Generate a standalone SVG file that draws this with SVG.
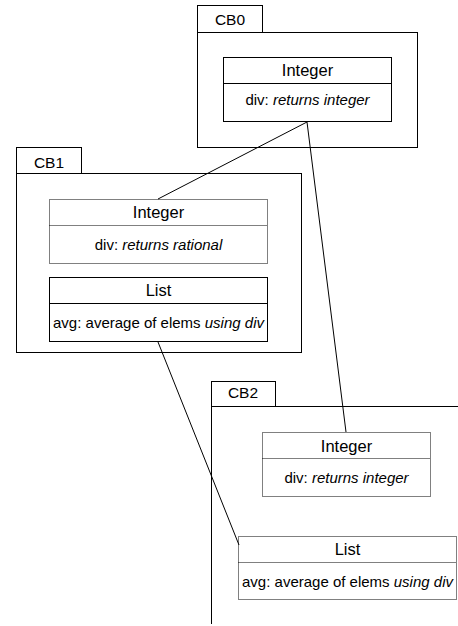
<svg xmlns="http://www.w3.org/2000/svg" width="458" height="626" viewBox="0 0 458 626">
<style>
.frame{fill:none;stroke:#000;stroke-width:1}
.solid{fill:#fff;stroke:#000;stroke-width:1}
.dot{fill:#fff;stroke:#000;stroke-width:1;stroke-dasharray:1 1}
.hd{font-family:"Liberation Sans",Arial,sans-serif;font-size:16.5px;text-anchor:middle;fill:#000}
.bd{font-family:"Liberation Sans",Arial,sans-serif;font-size:15px;text-anchor:middle;fill:#000}
.tab{font-family:"Liberation Sans",Arial,sans-serif;font-size:15.5px;text-anchor:middle;fill:#000}
.it{font-style:italic}
.conn{fill:none;stroke:#000;stroke-width:1}
</style>
<g id="CB0">
  <rect class="frame" x="197.5" y="5.5" width="65" height="27"/>
  <rect class="frame" x="197.5" y="32.5" width="220" height="115"/>
  <text class="tab" x="230" y="25">CB0</text>
</g>
<g id="CB1">
  <rect class="frame" x="16.5" y="147.5" width="65" height="26"/>
  <rect class="frame" x="16.5" y="173.5" width="285" height="179"/>
  <text class="tab" x="49" y="168">CB1</text>
</g>
<g id="CB2">
  <rect class="frame" x="211.5" y="381.5" width="64" height="25"/>
  <path class="frame" d="M211.5 406.5 H458 M211.5 406.5 V624"/>
  <text class="tab" x="243" y="398">CB2</text>
</g>
<g id="CB0-Integer">
  <rect class="solid" x="223.5" y="57.5" width="168" height="64"/>
  <line class="frame" x1="223.5" y1="83.5" x2="391.5" y2="83.5"/>
  <text class="hd" x="307.5" y="76">Integer</text>
  <text class="bd" x="307.5" y="105">div: <tspan class="it">returns integer</tspan></text>
</g>
<g id="CB1-Integer">
  <rect class="dot" x="49.5" y="199.5" width="218" height="64"/>
  <line class="dot" x1="49.5" y1="225.5" x2="267.5" y2="225.5"/>
  <text class="hd" x="158.5" y="218">Integer</text>
  <text class="bd" x="158.5" y="250">div: <tspan class="it">returns rational</tspan></text>
</g>
<g id="CB1-List">
  <rect class="solid" x="49.5" y="277.5" width="218" height="64"/>
  <line class="frame" x1="49.5" y1="303.5" x2="267.5" y2="303.5"/>
  <text class="hd" x="158.5" y="296">List</text>
  <text class="bd" x="158.5" y="328">avg: average of elems <tspan class="it">using div</tspan></text>
</g>
<g id="CB2-Integer">
  <rect class="dot" x="262.5" y="432.5" width="168" height="64"/>
  <line class="dot" x1="262.5" y1="458.5" x2="430.5" y2="458.5"/>
  <text class="hd" x="346.5" y="452">Integer</text>
  <text class="bd" x="346.5" y="483">div: <tspan class="it">returns integer</tspan></text>
</g>
<g id="CB2-List">
  <rect class="dot" x="238.5" y="536.5" width="218" height="63"/>
  <line class="dot" x1="238.5" y1="562.5" x2="456.5" y2="562.5"/>
  <text class="hd" x="347.5" y="555">List</text>
  <text class="bd" x="347.5" y="587">avg: average of elems <tspan class="it">using div</tspan></text>
</g>
<g id="connectors">
  <line class="conn" x1="307" y1="122" x2="158" y2="199"/>
  <line class="conn" x1="307" y1="122" x2="346" y2="432"/>
  <line class="conn" x1="158" y1="342" x2="239" y2="545"/>
</g>
</svg>
